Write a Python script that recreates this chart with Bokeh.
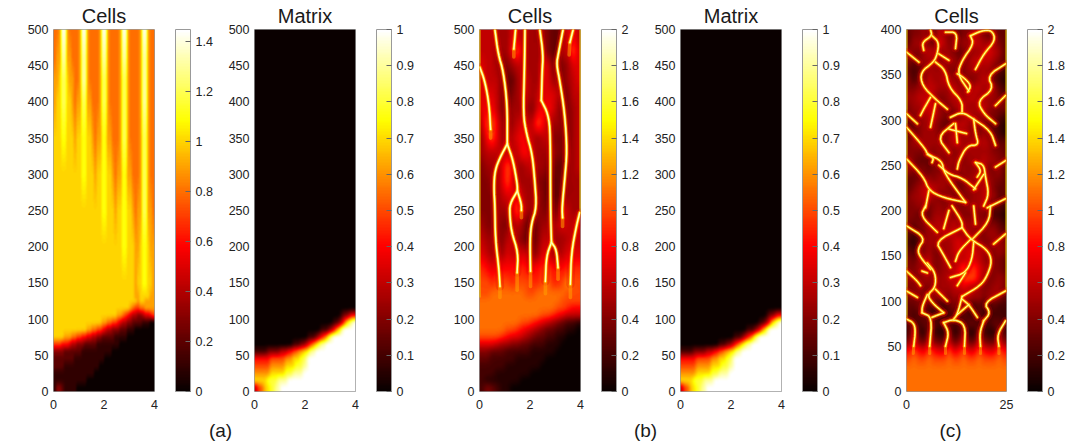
import numpy as np
from bokeh.embed import file_html
from bokeh.layouts import column, row
from bokeh.models import ColorBar, FixedTicker, Label, LinearColorMapper, Range1d
from bokeh.plotting import figure
from bokeh.resources import INLINE

# ---- values: each character is a value in tenths (A=1.0, B=1.1, ...)
LOWER_TIMES_FROM_125 = [125, 115, 105, 95, 85, 75, 65, 55, 45, 35, 25, 15, 5]
CELLS_A_TIMES = [500, 460, 430, 400, 350, 300, 250, 200, 150, 130] + LOWER_TIMES_FROM_125
CELLS_A_ROWS = [
    "889EE988889EE988889EE988889EE988889EE988",
    "899DD998889DD988889DD988889DD988889DD988",
    "99ACCA99889DD988889CC988889CC988889DD988",
    "9AACCAA9899CC998889CC988889CC988889DD988",
    "AAABBAAA9AABBAA9899BB998889CC988889CC988",
    "AAAAAAAAAAABBAAA9AABBAA9899BB998889CC988",
    "AAAAAAAAAAAAAAAAAAABBAAA9AABBAA9899CC998",
    "AAAAAAAAAAAAAAAAAAAAAAAAAAABBAAA99ABBA99",
    "AAAAAAAAAAAAAAAAAAAAAAAAAAAAAAAA9AABBAA9",
    "AAAAAAAAAAAAAAAAAAAAAAAAAAAAAAAA99AAAA99",
    "AAAAAAAAAAAAAAAAAAAAAAAAAAAAAAAAA9AA9999",
    "AAAAAAAAAAAAAAAAAAAAAAAAAAAAAA9877889999",
    "AAAAAAAAAAAAAAAAAAAAAAAAA998765443345567",
    "AAAAAAAAAAAAAAAAAAA998877654433222211100",
    "AAAAAAAAAAAAA998877654433322211100000000",
    "AAAA999887766554433222221111100000000000",
    "7776665443332222211111111100000000000000",
    "3333222222211111111111100000000000000000",
    "2222222211111111111100000000000000000000",
    "2222111111111111110000000000000000000000",
    "1111111111111111000000000000000000000000",
    "1111111111111000000000000000000000000000",
    "1332111110000000000000000000000000000000",
]
MATRIX_TIMES = [500, 115, 105, 95, 85, 75, 65, 55, 45, 35, 25, 15, 5]
MATRIX_A_ROWS = [
    "0000000000000000000000000000000000000000",
    "0000000000000000000000000000000000000000",
    "0000000000000000000000000000000000122344",
    "000000000000000000000000000000011235789A",
    "00000000000000000000000000111234679AAAAA",
    "0000000000000000000001112345689AAAAAAAAA",
    "0000000000000001112234567899AAAAAAAAAAAA",
    "111112222233344556677899AAAAAAAAAAAAAAAA",
    "444444555555666777889AAAAAAAAAAAAAAAAAAA",
    "555555666666777788899AAAAAAAAAAAAAAAAAAA",
    "6666667777778889999AAAAAAAAAAAAAAAAAAAAA",
    "7777788889999AAAAAAAAAAAAAAAAAAAAAAAAAAA",
    "3556778899AAAAAAAAAAAAAAAAAAAAAAAAAAAAAA",
]
MATRIX_B_ROWS = list(MATRIX_A_ROWS)

CELLS_B_TIMES = list(range(490, 149, -20)) + [135] + LOWER_TIMES_FROM_125
CELLS_B_ROWS = [
    "66655577555554335786", "6665558A6555543366A7", "76654456655577444577", "76664335665577554567",
    "77764345665677764466", "78864455554788754456", "6AB75456766A86554456", "58A75567876566444456",
    "56666666886555544556", "45557A85566554433556", "44557A75555443334555", "44456778655543334555",
    "4445557A755544447655", "54454456533455567667", "65554665433466555666", "76565766764577556777",
    "9878888998889A898999", "AA9AAA9AAA99AB99ACAA",
    "AABBBBBBBAABBBBBBAAA", "BBBBBBBBBBBBBBBBAAAA", "BBBBBBBBBBBBBBBAA988", "BBBBBBBBBBBBAA987666",
    "BBBBBBBBAA9876543221", "BBBBBAA9876543322110", "AAAA9877654332211000", "77765544332221110000",
    "44333222221111100000", "33222221111110000000", "22222111111100000000", "22211111110000000000",
    "21111111000000000000", "24321100000000000000",
]
CELLS_B_FIBRES = [
    [(0.01, 448), (0.21, 429), (0.38, 397), (0.44, 362)],
    [(0.61, 500), (0.74, 466), (0.94, 443), (1.10, 397), (1.10, 342)],
    [(1.10, 342), (0.81, 323), (0.61, 305), (0.57, 282), (0.61, 256), (0.63, 210), (0.77, 169), (0.81, 145)],
    [(1.10, 342), (1.33, 319), (1.50, 286), (1.50, 277)],
    [(1.50, 277), (1.20, 259), (1.20, 243), (1.27, 220), (1.53, 192), (1.49, 164)],
    [(1.50, 277), (1.66, 259), (1.66, 250)],
    [(1.43, 500), (1.36, 473)],
    [(1.80, 500), (1.78, 443), (1.73, 383), (1.86, 356), (2.09, 328), (2.19, 291), (2.26, 254), (2.06, 233), (2.00, 210), (2.02, 166)],
    [(2.39, 500), (2.52, 466), (2.48, 440), (2.45, 402)],
    [(2.45, 402), (2.72, 383), (2.81, 356), (2.81, 254), (2.85, 206)],
    [(2.85, 206), (2.65, 187), (2.61, 152)],
    [(2.85, 206), (3.05, 196), (3.11, 171)],
    [(3.31, 500), (3.12, 466), (3.05, 452), (3.18, 429), (3.38, 383), (3.47, 332), (3.38, 295), (3.27, 254), (3.29, 240)],
    [(3.71, 500), (3.58, 482)],
    [(3.97, 247), (3.84, 229), (3.64, 192), (3.60, 148)],
]
CELLS_B_TAILS = [
    [(0.81, 145), (0.81, 130)], [(1.49, 164), (1.49, 140)], [(2.02, 166), (2.02, 145)],
    [(2.61, 152), (2.61, 135)], [(3.11, 171), (3.11, 155)], [(3.60, 148), (3.60, 130)],
    [(0.44, 362), (0.44, 350)], [(1.36, 473), (1.36, 462)], [(1.66, 250), (1.66, 240)],
    [(3.29, 240), (3.29, 228)], [(3.58, 482), (3.55, 465)],
]
CELLS_B_EDGES = [[(0, 130), (0, 500)], [(4, 245), (4, 500)]]

CELLS_C_TIMES = list(range(395, 0, -10))
CELLS_C_ROWS = [
    "34454365443446543533", "35554376454556655543", "54456645543445567653", "43455545554456666543",
    "32345555444455555432", "42446556554444565321", "44556655565546656532", "55666544565566555543",
    "45567654456655665444", "44556654434565554432", "33455543356654443321", "34455544565554454321",
    "45555554566556565433", "44445455545555555443", "54333444555455565544", "54443445544545554453",
    "33445455554455555443", "34566655443455565433", "45566544544445565533", "44544454544455564332",
    "44343555545444443221", "43445565565555554432", "32345556665555445543", "21345555567665544554",
    "32445445567676655454", "43556445556677654443", "44556445567A7A765443", "54455455667AAA754454",
    "44544555566765544554", "44444555455565545553", "33443222343432322322", "32332222232322322222",
    "33233323323233232332", "27215211512511521152", "47437433734733743374", "8A87A877A78A77A877A8",
    "ABAABAAABAABAABAAABA", "BBBBBBBBBBBBBBBBBBBB", "BBBBBBBBBBBBBBBBBBBB", "BBBBBBBBBBBBBBBBBBBB",
]
CELLS_C_FIBRES = [
    [(0, 80), (1.8, 76), (2.25, 67), (1.8, 50)],
    [(3.9, 87), (6.4, 82), (5.8, 50)],
    [(9.3, 87), (6.4, 82)],
    [(9.3, 76), (10.6, 65), (9.75, 50)],
    [(9.3, 76), (11.8, 80), (14.75, 74), (14.5, 50)],
    [(19.3, 78), (18.3, 65), (18.5, 50)],
    [(24.75, 78), (22.7, 63), (23.1, 50)],
    [(0, 111), (2.7, 104)],
    [(0, 133), (2.7, 122), (3.5, 117)],
    [(5.2, 142), (7.25, 131), (7.25, 115), (5.2, 107), (6.4, 98), (9.3, 87)],
    [(5.2, 107), (3.9, 94), (3.9, 87)],
    [(7.25, 113), (10.2, 100)],
    [(0, 183), (4.75, 170), (2.7, 157), (3.5, 148), (6, 135)],
    [(13.9, 181), (7.25, 166), (9, 153), (11, 137)],
    [(13.9, 181), (16, 168), (20.2, 157), (21.4, 144), (20.2, 128), (18.5, 117), (13.9, 105)],
    [(16.8, 165), (16.4, 146), (14.75, 131), (11, 126)],
    [(14.75, 131), (12.7, 117)],
    [(16, 168), (13.1, 155), (12.25, 144)],
    [(13.9, 105), (12.7, 85), (11.8, 80)],
    [(13.9, 102), (15.6, 96), (17.7, 82)],
    [(24.75, 111), (19.3, 98), (21, 87), (19.3, 78)],
    [(4.75, 205), (3.5, 194), (7.7, 176)],
    [(9.3, 180), (10.6, 200)],
    [(11.4, 205), (13.9, 188), (13.9, 181)],
    [(16.8, 205), (17.25, 185)],
    [(21, 205), (20.6, 187), (16.4, 168)],
    [(24.75, 174), (21.8, 163)],
    [(6, 400), (6.4, 393), (3.9, 386), (4.3, 377)],
    [(6.4, 393), (8.1, 386), (7.7, 373), (6.8, 364), (3.5, 353), (3.9, 338), (7.25, 323), (10.2, 312)],
    [(9.75, 397), (12.7, 397), (12.25, 379)],
    [(16, 393), (18.9, 399), (21.4, 399), (22.25, 388), (19.3, 373), (17.25, 356)],
    [(16, 393), (16.8, 384), (13.9, 366), (12.7, 351), (15.6, 332)],
    [(0, 375), (3.1, 364)],
    [(24.75, 362), (20.2, 349), (21.8, 334), (17.7, 321), (19.3, 307), (22.25, 296)],
    [(7.25, 364), (9.75, 355), (10.6, 336), (13.9, 321), (13.9, 309)],
    [(8.1, 373), (10.6, 366)],
    [(12.7, 351), (14.3, 347), (16.2, 338), (15.3, 331)],
    [(6, 325), (4.3, 312), (3.5, 305)],
    [(7.25, 318), (6, 292)],
    [(24.75, 327), (22.25, 316)],
    [(0, 307), (2.7, 296)],
    [(11, 303), (13.9, 309), (16.8, 301), (21, 288), (22.25, 272)],
    [(11.8, 296), (7.7, 281), (10.6, 264)],
    [(12.25, 296), (12.7, 275)],
    [(16.8, 301), (17.25, 285), (18.1, 272), (15.2, 272), (13.1, 255), (12.7, 246)],
    [(0, 292), (4.75, 268), (5.2, 262), (8.9, 255), (9.3, 242), (14.75, 209)],
    [(0, 257), (4.3, 237), (5.6, 222), (9.3, 214), (14.75, 209)],
    [(5.6, 222), (4.75, 203)],
    [(8.1, 250), (10.6, 240), (13.9, 236), (17.25, 224)],
    [(17.25, 253), (19.3, 251), (19.75, 237), (20.6, 218), (19.3, 205)],
    [(24.75, 255), (22.25, 248)],
    [(24.75, 213), (20.2, 203)],
    [(5.2, 262), (6.8, 258), (6.4, 253)],
    [(17.25, 253), (18.7, 244), (17.7, 237)],
    [(19.3, 240), (16.8, 223)],
    [(10.6, 290), (15, 285)],
    [(3.9, 133), (5.2, 131)],
    [(12.7, 85), (15.6, 96)],
]
CELLS_C_TAILS = [
    [(1.8, 50), (1.7, 42)], [(5.8, 50), (5.8, 42)], [(9.75, 50), (9.75, 42)],
    [(14.5, 50), (14.5, 42)], [(18.5, 50), (18.5, 42)], [(23.1, 50), (23.1, 42)],
]
CELLS_C_EDGES = [[(0, 80), (0, 400)], [(25, 110), (25, 400)]]

CELLS_A_TICKS = [0, 0.2, 0.4, 0.6, 0.8, 1, 1.2, 1.4]
MATRIX_TICKS = [0, 0.1, 0.2, 0.3, 0.4, 0.5, 0.6, 0.7, 0.8, 0.9, 1]
CELLS_BC_TICKS = [0, 0.2, 0.4, 0.6, 0.8, 1, 1.2, 1.4, 1.6, 1.8, 2]
TIME_TICKS_500 = list(range(0, 501, 50))
TIME_TICKS_400 = list(range(0, 401, 50))
PANEL_LETTERS = ["(a)", "(b)", "(c)"]

TICK_COLOR = "#222222"
FONT = "Liberation Sans"


def make_palette(n=128):
    stops = [0, 0.4, 0.75, 1]
    pos = np.linspace(0, 1, n)
    r = np.interp(pos, stops, [10, 255, 255, 255])
    g = np.interp(pos, stops, [0, 0, 255, 255])
    b = np.interp(pos, stops, [0, 0, 0, 255])
    return ["#%02x%02x%02x" % (int(a), int(c), int(d)) for a, c, d in zip(r, g, b)]


PALETTE = make_palette()


def blur(a, sigma, axis):
    if sigma <= 0:
        return a
    r = int(3 * sigma) + 1
    k = np.exp(-0.5 * (np.arange(-r, r + 1) / sigma) ** 2)
    k /= k.sum()
    pad = [(0, 0), (0, 0)]
    pad[axis] = (r, r)
    b = np.pad(a, pad, mode="edge")
    return np.apply_along_axis(lambda v: np.convolve(v, k, mode="valid"), axis, b)


def display_raster(rows, times, tmax, sx, sy):
    """The reference is a smoothly shaded raster: shade the read cells at display resolution."""
    cells = np.array([[int(c, 36) * 0.1 for c in s] for s in rows])[::-1]
    t = np.array(times, dtype=float)[::-1]
    nx = cells.shape[1]
    ti = (np.arange(724) + 0.5) / 724 * tmax
    xi = (np.arange(404) + 0.5) / 404 * nx - 0.5
    by_t = np.array([np.interp(ti, t, cells[:, j]) for j in range(nx)]).T
    out = np.array([np.interp(xi, np.arange(nx), r) for r in by_t])
    return blur(blur(out, sx * 4, 1), sy * 2, 0)


def rounded(path, passes=2):
    """Round a fibre's corners for display; its end points stay where they were read."""
    pts = list(path)
    for _ in range(passes):
        out = [pts[0]]
        for a, b in zip(pts[:-1], pts[1:]):
            out.append((0.75 * a[0] + 0.25 * b[0], 0.75 * a[1] + 0.25 * b[1]))
            out.append((0.25 * a[0] + 0.75 * b[0], 0.25 * a[1] + 0.75 * b[1]))
        out.append(pts[-1])
        pts = out
    return pts


def label_text(v):
    return ("%g" % v)


def panel(title, rows, times, xmax, tmax, vmax, ticks, xticks, yticks, left, fw, right, cb_off, sx, sy,
          fibres=None, tails=None, edges=None, widths=(4, 2.2, 1.0)):
    p = figure(
        output_backend="svg", toolbar_location=None, title=title,
        frame_width=fw, frame_height=362,
        min_border_left=left, min_border_right=right, min_border_top=29, min_border_bottom=25,
        x_range=Range1d(0, xmax), y_range=Range1d(0, tmax),
        background_fill_color="white", border_fill_color="white",
        outline_line_color="#999999",
    )
    p.title.align = "center"
    p.title.text_font = FONT
    p.title.text_font_size = "20px"
    p.title.text_font_style = "normal"
    p.title.text_color = "#1a1a1a"
    p.title.standoff = 5
    p.title.offset = 0
    p.grid.visible = False
    for ax, tk in ((p.xaxis[0], xticks), (p.yaxis[0], yticks)):
        ax.ticker = FixedTicker(ticks=tk)
        ax.axis_line_color = None
        ax.major_tick_line_color = None
        ax.minor_tick_line_color = None
        ax.major_tick_in = 0
        ax.major_tick_out = 0
        ax.minor_tick_out = 0
        ax.major_label_text_font = FONT
        ax.major_label_text_font_size = "12.5px"
        ax.major_label_text_color = TICK_COLOR
        ax.major_label_overrides = {t: label_text(t) for t in tk}
    p.xaxis[0].major_label_standoff = 8
    p.yaxis[0].major_label_standoff = 5
    mapper = LinearColorMapper(palette=PALETTE, low=0, high=vmax)
    arr = display_raster(rows, times, tmax, sx, sy)
    p.image(image=[arr], x=0, y=0, dw=xmax, dh=tmax, color_mapper=mapper)
    if edges:
        p.multi_line([[a for a, _ in f] for f in edges], [[b for _, b in f] for f in edges], line_color="#E8C800", line_width=2)
    if fibres:
        smooth = [rounded(f) for f in fibres]
        xs = [[a for a, _ in f] for f in smooth]
        ys = [[b for _, b in f] for f in smooth]
        txs = [[a for a, _ in f] for f in tails]
        tys = [[b for _, b in f] for f in tails]
        p.multi_line(xs, ys, line_color="#E00000", line_alpha=0.25, line_width=widths[0] + 4, line_join="round", line_cap="round")
        p.multi_line(xs, ys, line_color="#FF5000", line_alpha=0.6, line_width=widths[0], line_join="round", line_cap="round")
        p.multi_line(txs, tys, line_color="#FFA000", line_alpha=0.55, line_width=widths[1] + 1, line_cap="round")
        p.multi_line(xs, ys, line_color="#FFD000", line_width=widths[1], line_join="round", line_cap="round")
        p.multi_line(xs, ys, line_color="#FFFFC0", line_width=widths[2], line_join="round", line_cap="round")
    cb = ColorBar(
        color_mapper=mapper, location=(cb_off, 0), width=15, height=362,
        margin=0, padding=0, ticker=FixedTicker(ticks=ticks),
        major_label_overrides={t: label_text(t) for t in ticks},
        major_label_text_font=FONT, major_label_text_font_size="12.5px",
        major_label_text_color=TICK_COLOR, label_standoff=5,
        major_tick_line_color="#666666", major_tick_in=5, major_tick_out=0,
        minor_tick_line_color=None, bar_line_color="#999999",
        background_fill_color=None, border_line_color=None,
    )
    p.add_layout(cb, "center")
    return p


f1 = panel("Cells", CELLS_A_ROWS, CELLS_A_TIMES, 4, 500, 1.45, CELLS_A_TICKS, [0, 2, 4], TIME_TICKS_500, 53, 101, 71, 122, 0.5, 1.5)
f1.add_layout(Label(x=-1.47, y=274, text="time", angle=90, angle_units="deg", text_align="center", text_baseline="middle",
                    text_font=FONT, text_font_size="20px", text_color="#1a1a1a"))
f2 = panel("Matrix", MATRIX_A_ROWS, MATRIX_TIMES, 4, 500, 1, MATRIX_TICKS, [0, 2, 4], TIME_TICKS_500, 28, 101, 71, 122, 1.5, 1.5)
f3 = panel("Cells", CELLS_B_ROWS, CELLS_B_TIMES, 4, 500, 2, CELLS_BC_TICKS, [0, 2, 4], TIME_TICKS_500, 53, 101, 71, 122, 2.0, 2.5,
           CELLS_B_FIBRES, CELLS_B_TAILS, CELLS_B_EDGES, widths=(4.5, 2.6, 1.4))
f4 = panel("Matrix", MATRIX_B_ROWS, MATRIX_TIMES, 4, 500, 1, MATRIX_TICKS, [0, 2, 4], TIME_TICKS_500, 27, 101, 72, 122, 1.5, 1.5)
f5 = panel("Cells", CELLS_C_ROWS, CELLS_C_TIMES, 25, 400, 2, CELLS_BC_TICKS, [0, 25], TIME_TICKS_400, 53, 100, 62, 121, 2.0, 2.5,
           CELLS_C_FIBRES, CELLS_C_TAILS, CELLS_C_EDGES, widths=(4, 2.1, 0.9))

strip = figure(output_backend="svg", toolbar_location=None, width=1065, height=30,
               x_range=Range1d(0, 1065), y_range=Range1d(0, 30),
               min_border=0, outline_line_color=None, border_fill_color="white", background_fill_color="white")
strip.axis.visible = False
strip.grid.visible = False
for txt, xpos in zip(PANEL_LETTERS, [220, 645, 950]):
    strip.add_layout(Label(x=xpos, y=16, text=txt, text_align="center", text_baseline="middle",
                           text_font=FONT, text_font_size="19px", text_color="#1a1a1a"))

page = column(row(f1, f2, f3, f4, f5, spacing=0), strip, spacing=0, margin=0)
open("out.html", "w").write(file_html(page, INLINE))
